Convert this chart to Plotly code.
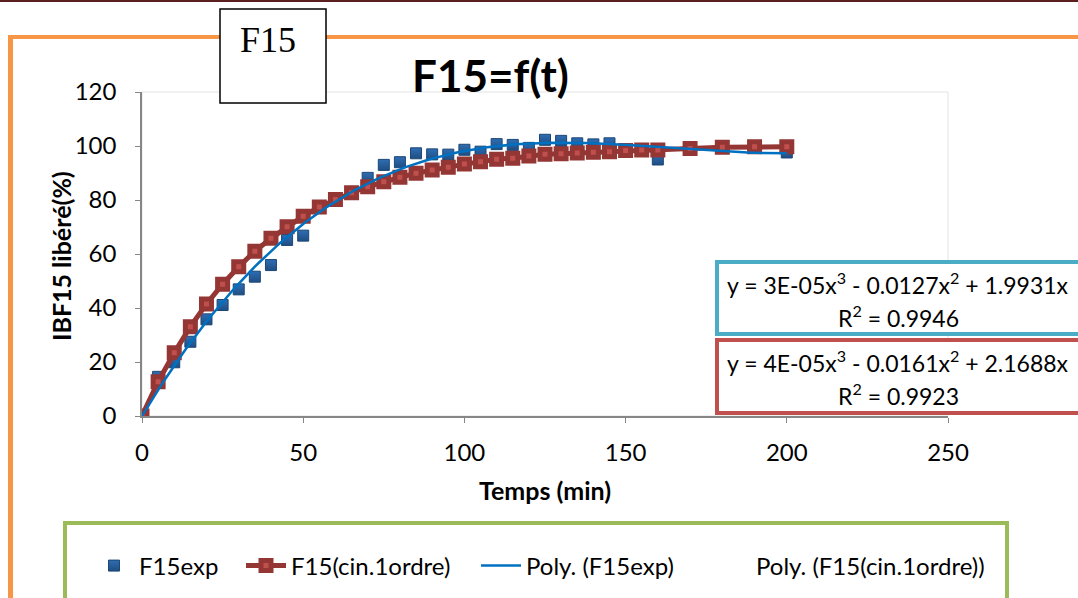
import numpy as np
import plotly.graph_objects as go

# ---- data ----
t_exp = [0, 5, 10, 15, 20, 25, 30, 35, 40, 45, 50, 55, 60, 65, 70, 75, 80, 85, 90, 95,
         100, 105, 110, 115, 120, 125, 130, 135, 140, 145, 150, 155, 160, 170, 180, 190, 200]
f15_exp = [0, 14.5, 19.9, 27.5, 35.8, 41.1, 46.9, 51.6, 55.9, 65.2, 66.8, 77.0, 80.0, 82.5, 88.2, 93.0,
           94.0, 97.3, 96.9, 96.8, 98.6, 97.9, 100.7, 100.4, 99.3, 102.3, 101.9, 101.0, 100.6, 101.0,
           98.5, 98.5, 95.0, 99.0, 99.3, 99.5, 97.6]

t_cin = [0, 5, 10, 15, 20, 25, 30, 35, 40, 45, 50, 55, 60, 65, 70, 75, 80, 85, 90, 95,
         100, 105, 110, 115, 120, 125, 130, 135, 140, 145, 150, 155, 160, 170, 180, 190, 200]
f15_cin = [0, 12.7, 23.4, 33.1, 41.5, 48.8, 55.3, 61.0, 65.8, 70.1, 74.0, 77.4, 80.2, 82.7, 84.9, 86.8,
           88.4, 89.9, 91.1, 92.1, 93.3, 94.2, 95.1, 95.5, 96.3, 96.9, 97.1, 97.4, 97.7, 97.9,
           98.3, 98.5, 98.5, 99.1, 99.5, 99.7, 99.7]

x_ticks = [0, 50, 100, 150, 200, 250]
y_ticks = [0, 20, 40, 60, 80, 100, 120]

eq_exp = ["y = 3E-05x<sup>3</sup> - 0.0127x<sup>2</sup> + 1.9931x", "R<sup>2</sup> = 0.9946"]
eq_cin = ["y = 4E-05x<sup>3</sup> - 0.0161x<sup>2</sup> + 2.1688x", "R<sup>2</sup> = 0.9923"]

FONT = "Lato"


def cubic_fit_through_origin(x, y):
    x = np.asarray(x, float)
    y = np.asarray(y, float)
    A = np.vstack([x ** 3, x ** 2, x]).T
    c, *_ = np.linalg.lstsq(A, y, rcond=None)
    xs = np.linspace(x.min(), x.max(), 201)
    return xs, c[0] * xs ** 3 + c[1] * xs ** 2 + c[2] * xs


fx_exp, fy_exp = cubic_fit_through_origin(t_exp, f15_exp)
fx_cin, fy_cin = cubic_fit_through_origin(t_cin, f15_cin)

W, H = 1078, 598


def px(xp):
    return xp / W


def py(yp):
    return 1 - yp / H


fig = go.Figure()

fig.add_trace(go.Scatter(
    x=t_exp, y=f15_exp, mode="markers", name="F15exp", legend="legend",
    marker=dict(symbol="square", size=11, color="#2F6DB3",
                line=dict(color="#1C4775", width=1),
                gradient=dict(type="vertical", color="#1F4E82")),
))
fig.add_trace(go.Scatter(
    x=t_cin, y=f15_cin, mode="lines+markers", name="F15(cin.1ordre)", legend="legend2",
    line=dict(color="#943634", width=5),
    marker=dict(symbol="square", size=10, color="#C0504D",
                line=dict(color="#943634", width=5)),
))
fig.add_trace(go.Scatter(
    x=fx_exp, y=fy_exp, mode="lines", name="Poly. (F15exp)", legend="legend3",
    line=dict(color="#0070C0", width=2.5),
))
fig.add_trace(go.Scatter(
    x=fx_cin, y=fy_cin, mode="lines", name="Poly. (F15(cin.1ordre))", legend="legend4",
    line=dict(color="rgba(0,0,0,0)", width=2),
))

x0p, x1p = 142, 948
y0p, y1p = 416, 92


def leg(xpix):
    return dict(orientation="h", x=px(xpix), y=py(566), xanchor="left", yanchor="middle",
                font=dict(size=24, family=FONT, color="black"), bgcolor="rgba(0,0,0,0)",
                itemwidth=40, tracegroupgap=0)


fig.update_layout(
    width=W, height=H,
    margin=dict(l=0, r=0, t=0, b=0, pad=0, autoexpand=False),
    paper_bgcolor="white", plot_bgcolor="white",
    font=dict(family=FONT, color="black"),
    showlegend=True,
    legend=leg(89), legend2=leg(241), legend3=leg(476), legend4=leg(706),
    xaxis=dict(domain=[px(x0p), px(x1p)], range=[0, 250], tickvals=x_ticks, automargin=False,
               showgrid=False, zeroline=False, showline=True, linecolor="#868686", linewidth=1.5,
               ticks="outside", ticklen=5, tickcolor="#868686",
               tickfont=dict(size=24, family=FONT), ticklabelstandoff=9),
    yaxis=dict(domain=[py(y0p), py(y1p)], range=[0, 120], tickvals=y_ticks, automargin=False,
               showgrid=False, zeroline=False, showline=True, linecolor="#868686", linewidth=1.5,
               ticks="outside", ticklen=5, tickcolor="#868686",
               tickfont=dict(size=24, family=FONT), ticklabelstandoff=14),
)

shapes = []
# top dark line
shapes.append(dict(type="line", xref="paper", yref="paper", x0=0, x1=1, y0=py(1), y1=py(1),
                   line=dict(color="#5A1F1F", width=2)))
# orange frame
shapes.append(dict(type="line", xref="paper", yref="paper", x0=px(8), x1=1, y0=py(37), y1=py(37),
                   line=dict(color="#F79646", width=4)))
shapes.append(dict(type="line", xref="paper", yref="paper", x0=px(10.5), x1=px(10.5), y0=py(35), y1=0,
                   line=dict(color="#F79646", width=5)))
# plot area faint border
shapes.append(dict(type="rect", xref="x domain", yref="y domain", x0=0, x1=1, y0=0, y1=1,
                   line=dict(color="#E3E3E3", width=1), layer="below"))
# F15 box
shapes.append(dict(type="rect", xref="paper", yref="paper", x0=px(220), x1=px(326), y0=py(103), y1=py(9),
                   line=dict(color="black", width=1.5), fillcolor="white"))
# legend box
shapes.append(dict(type="rect", xref="paper", yref="paper", x0=px(65), x1=px(1007), y0=py(605), y1=py(523),
                   line=dict(color="#9BBB59", width=4), fillcolor="rgba(0,0,0,0)"))
# equation boxes
shapes.append(dict(type="rect", xref="paper", yref="paper", x0=px(717), x1=px(1090), y0=py(334), y1=py(262),
                   line=dict(color="#4BACC6", width=4), fillcolor="white"))
shapes.append(dict(type="rect", xref="paper", yref="paper", x0=px(717), x1=px(1090), y0=py(413), y1=py(340),
                   line=dict(color="#C0504D", width=4), fillcolor="white"))
fig.update_layout(shapes=shapes)

ann = []
ann.append(dict(text="F15", xref="paper", yref="paper", x=px(268), y=py(40), showarrow=False,
                font=dict(family="Liberation Serif", size=36, color="black"), xanchor="center", yanchor="middle"))
ann.append(dict(text="<b>F15=f(t)</b>", xref="paper", yref="paper", x=px(490), y=py(75), showarrow=False,
                font=dict(family=FONT, size=44, color="black"), xanchor="center", yanchor="middle"))
ann.append(dict(text="<b>Temps (min)</b>", xref="paper", yref="paper", x=px(545), y=py(490), showarrow=False,
                font=dict(family=FONT, size=25, color="black"), xanchor="center", yanchor="middle"))
ann.append(dict(text="<b>IBF15 libéré(%)</b>", xref="paper", yref="paper", x=px(61), y=py(256), showarrow=False,
                textangle=-90, font=dict(family=FONT, size=25, color="black"), xanchor="center", yanchor="middle"))
for txt, yy in [(eq_exp[0], 283), (eq_exp[1], 316), (eq_cin[0], 361), (eq_cin[1], 394)]:
    ann.append(dict(text=txt, xref="paper", yref="paper", x=px(898), y=py(yy), showarrow=False,
                    font=dict(family=FONT, size=23, color="black"), xanchor="center", yanchor="middle"))
fig.update_layout(annotations=ann)

fig.write_html("out.html")
